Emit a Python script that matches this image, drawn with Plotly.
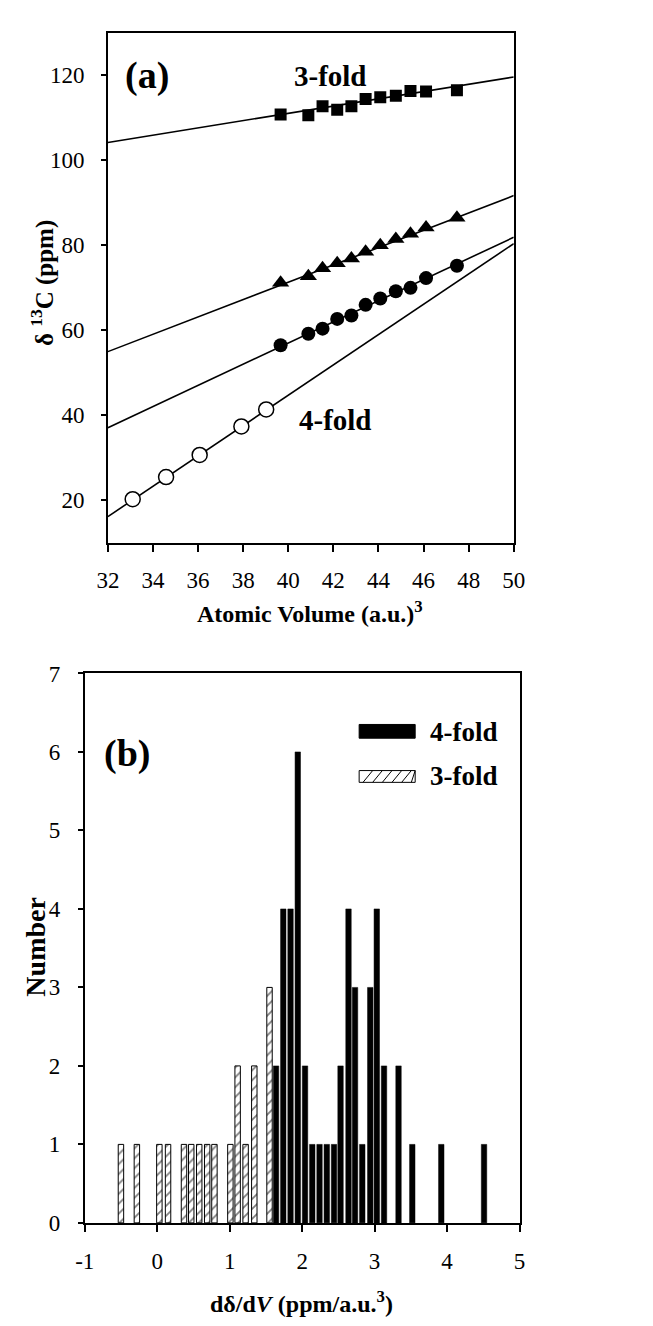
import plotly.graph_objects as go

# ---------------- Panel (a) data ----------------
volume = [39.66, 40.89, 41.52, 42.17, 42.80, 43.43, 44.08, 44.77, 45.42, 46.11, 47.48]
shift_square = [110.8, 110.6, 112.7, 111.9, 112.7, 114.4, 114.8, 115.2, 116.3, 116.2, 116.5]
shift_triangle = [71.2, 72.7, 74.6, 75.8, 76.9, 78.5, 80.0, 81.5, 82.7, 84.2, 86.5]
shift_circle = [56.5, 59.2, 60.4, 62.7, 63.5, 66.0, 67.5, 69.2, 70.0, 72.3, 75.2]
volume_open = [33.10, 34.58, 36.07, 37.92, 39.02]
shift_open = [20.3, 25.5, 30.7, 37.4, 41.4]

fit_x = [32, 50]
fit_square = [104.2, 119.6]
fit_triangle = [55.0, 91.7]
fit_circle = [37.1, 81.9]
fit_open = [16.2, 80.4]

a_xticks = [32, 34, 36, 38, 40, 42, 44, 46, 48, 50]
a_yticks = [20, 40, 60, 80, 100, 120]

# ---------------- Panel (b) data ----------------
slope_3fold = [-0.50, -0.28, 0.03, 0.15, 0.37, 0.47, 0.58, 0.69, 0.79, 1.01, 1.11, 1.22, 1.34, 1.55]
count_3fold = [1, 1, 1, 1, 1, 1, 1, 1, 1, 1, 2, 1, 2, 3]
slope_4fold = [1.64, 1.74, 1.84, 1.94, 2.04, 2.14, 2.24, 2.34, 2.44, 2.53, 2.64, 2.73,
               2.83, 2.94, 3.03, 3.13, 3.33, 3.52, 3.92, 4.51]
count_4fold = [2, 4, 4, 6, 2, 1, 1, 1, 1, 2, 4, 3, 1, 3, 4, 2, 2, 1, 1, 1]

b_xticks = [-1, 0, 1, 2, 3, 4, 5]
b_xticklabels = ["-1", "0", "1", "2", "3", "4", "5"]
b_yticks = [0, 1, 2, 3, 4, 5, 6, 7]

W, H = 653, 1326
FONT = "Liberation Serif"


def px(x):
    return x / W


def py(y):
    return 1 - y / H


fig = go.Figure()

# fit lines
for fy in (fit_square, fit_triangle, fit_circle, fit_open):
    fig.add_trace(go.Scatter(x=fit_x, y=fy, mode="lines",
                             line=dict(color="black", width=1.6),
                             xaxis="x", yaxis="y", showlegend=False, hoverinfo="skip"))

fig.add_trace(go.Scatter(x=volume, y=shift_square, mode="markers",
                         marker=dict(symbol="square", size=12, color="black"),
                         xaxis="x", yaxis="y", showlegend=False))
fig.add_trace(go.Scatter(x=volume, y=shift_triangle, mode="markers",
                         marker=dict(symbol="triangle-up", size=15, color="black"),
                         xaxis="x", yaxis="y", showlegend=False))
fig.add_trace(go.Scatter(x=volume, y=shift_circle, mode="markers",
                         marker=dict(symbol="circle", size=14, color="black"),
                         xaxis="x", yaxis="y", showlegend=False))
fig.add_trace(go.Scatter(x=volume_open, y=shift_open, mode="markers",
                         marker=dict(symbol="circle", size=15, color="white",
                                     line=dict(color="black", width=1.5)),
                         xaxis="x", yaxis="y", showlegend=False))

# histogram bars
fig.add_trace(go.Bar(x=slope_3fold, y=count_3fold, width=0.075, name="3-fold",
                     marker=dict(color="white", line=dict(color="black", width=1),
                                 pattern=dict(shape="/", fgcolor="black", bgcolor="white",
                                              size=7, solidity=0.25)),
                     xaxis="x2", yaxis="y2", showlegend=False))
fig.add_trace(go.Bar(x=slope_4fold, y=count_4fold, width=0.075, name="4-fold",
                     marker=dict(color="black", line=dict(color="black", width=0.5)),
                     xaxis="x2", yaxis="y2", showlegend=False))

axis_common = dict(showline=True, linecolor="black", linewidth=1.5, mirror=True,
                   ticks="outside", tickcolor="black", tickwidth=1.5,
                   showgrid=False, zeroline=False,
                   tickfont=dict(family=FONT, size=23, color="black"))

fig.update_layout(
    width=W, height=H,
    margin=dict(l=0, r=0, t=0, b=0),
    paper_bgcolor="white", plot_bgcolor="white",
    barmode="overlay",
    showlegend=False,
    xaxis=dict(domain=[px(92), px(512)], range=[32, 50], tickvals=a_xticks,
               ticklen=7, ticklabelstandoff=9, anchor="y", **axis_common),
    yaxis=dict(domain=[py(533), py(13)], range=[10, 130], tickvals=a_yticks,
               ticklen=5, ticklabelstandoff=12, anchor="x", **axis_common),
    xaxis2=dict(domain=[px(68), px(518)], range=[-1, 5], tickvals=b_xticks,
                ticktext=b_xticklabels,
                ticklen=7, ticklabelstandoff=10, anchor="y2", **axis_common),
    yaxis2=dict(domain=[py(1226), py(666)], range=[0, 7], tickvals=b_yticks,
                ticklen=5, ticklabelstandoff=13, anchor="x2", **axis_common),
)

ann = []


def text(x, y, s, size, angle=0, xanchor="center"):
    ann.append(dict(x=px(x), y=py(y), xref="paper", yref="paper", text=s,
                    showarrow=False, textangle=angle, xanchor=xanchor, yanchor="middle",
                    font=dict(family=FONT, size=size, color="black")))


text(132, 57, "<b>(a)</b>", 38)
text(322, 57, "<b>3-fold</b>", 29)
text(328, 408, "<b>4-fold</b>", 29)
text(301, 603, "<b>Atomic Volume (a.u.)<sup>3</sup></b>", 24)
text(25, 268, "<b>δ <sup>13</sup>C (ppm)</b>", 25, angle=-90)

text(112, 748, "<b>(b)</b>", 38)
text(17, 944, "<b>Number</b>", 28, angle=-90)
text(292, 1307, "<b>dδ/d<i>V</i> (ppm/a.u.<sup>3</sup>)</b>", 24)
text(423, 726, "<b>4-fold</b>", 27, xanchor="left")
text(423, 771, "<b>3-fold</b>", 27, xanchor="left")

fig.update_layout(annotations=ann)

# manual legend symbols for panel (b)
shapes = [
    dict(type="rect", xref="paper", yref="paper", x0=px(352), x1=px(410), y0=py(732), y1=py(718),
         fillcolor="black", line=dict(color="black", width=1)),
    dict(type="rect", xref="paper", yref="paper", x0=px(352), x1=px(410), y0=py(777), y1=py(765),
         fillcolor="white", line=dict(color="black", width=1)),
]
hatch = ""
for k in range(6):
    xs = 352 + 4 + k * 10
    hatch += f"M{px(xs)},{py(777)} L{px(min(xs + 10, 410))},{py(765)} "
shapes.append(dict(type="path", xref="paper", yref="paper", path=hatch,
                   line=dict(color="black", width=1)))
fig.update_layout(shapes=shapes)

fig.write_html("out.html")
